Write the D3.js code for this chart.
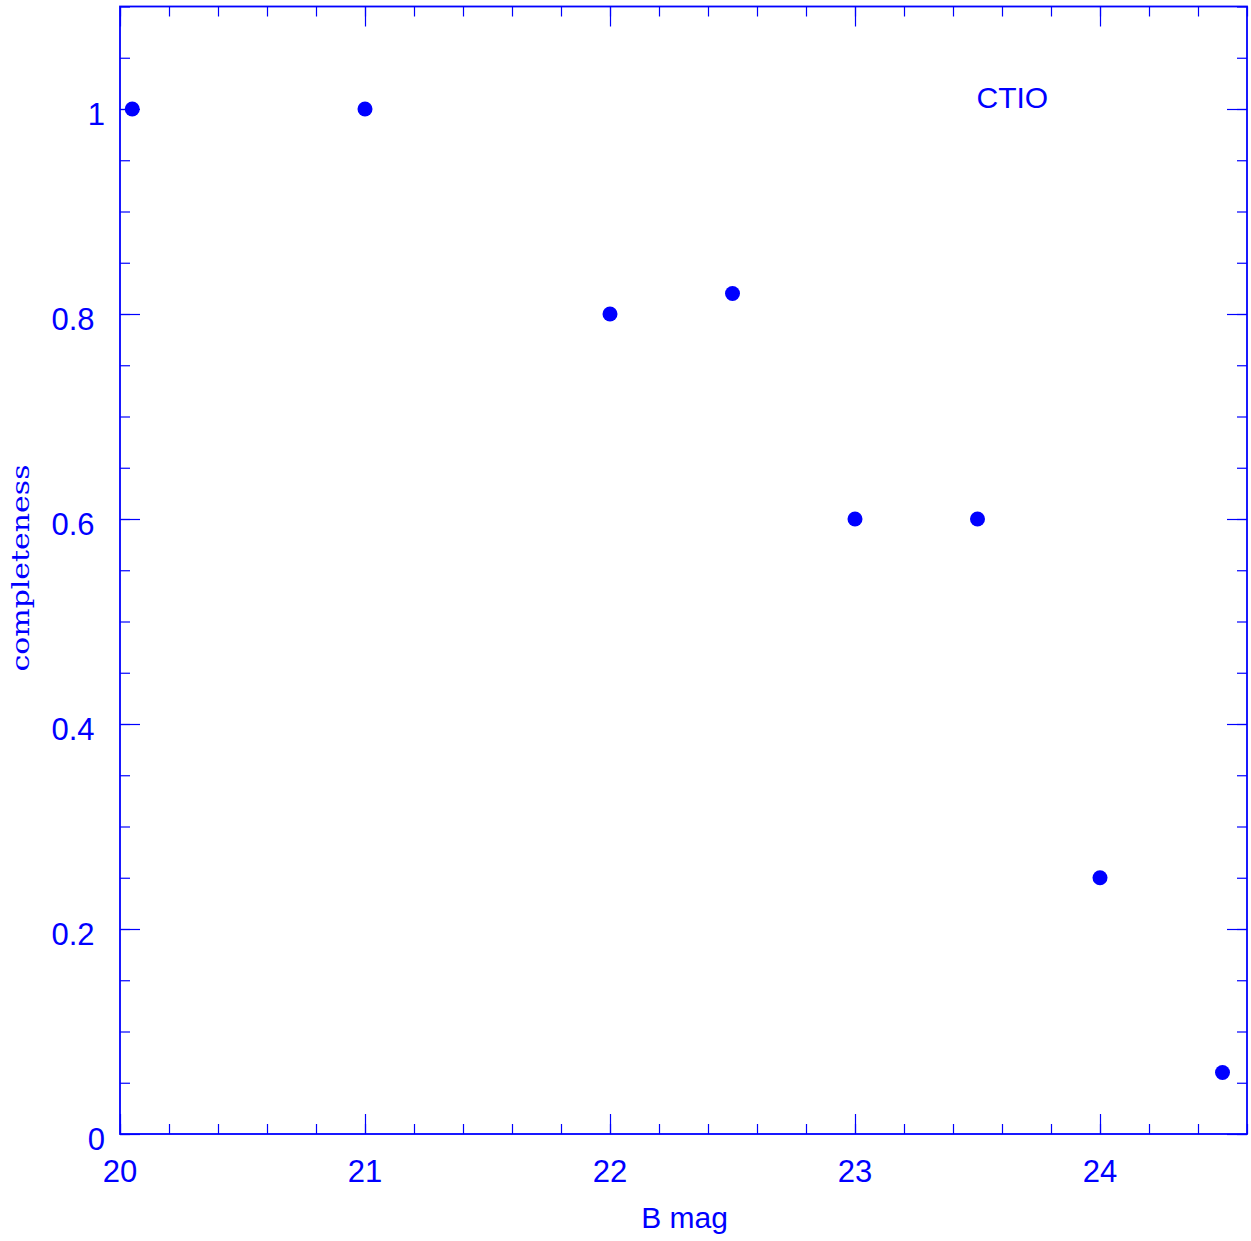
<!DOCTYPE html>
<html>
<head>
<meta charset="utf-8">
<script src="https://cdn.jsdelivr.net/npm/d3@7"></script>
<style>
  body { margin: 0; background: #fff; }
  svg { display: block; }
</style>
</head>
<body>
<script>
// completeness vs B magnitude (CTIO)
var bmag = [20.05, 21, 22, 22.5, 23, 23.5, 24, 24.5];
var completeness = [1, 1, 0.8, 0.82, 0.6, 0.6, 0.25, 0.06];
var xMajor = [20, 21, 22, 23, 24];
var yMajor = [0, 0.2, 0.4, 0.6, 0.8, 1];
var xLabels = ["20", "21", "22", "23", "24"];
var yLabels = ["0", "0.2", "0.4", "0.6", "0.8", "1"];

var W = 1251, H = 1241;
var blue = "#0000ff";
var padL = 120, padR = 1247, padT = 6.5, padB = 1134;

var x = d3.scaleLinear().domain([20, 24.6]).range([padL, padR]);
var y = d3.scaleLinear().domain([0, 1.1]).range([padB, padT]);

// minor ticks
var xMinor = d3.range(0, 24).map(function(i) { return 20 + i * 0.2; });
var yMinor = d3.range(0, 23).map(function(i) { return i * 0.05; });

var svg = d3.select("body").append("svg")
  .attr("width", W).attr("height", H);

function drawAxis(axisFn, scale, ticks, size, tx, ty) {
  var g = svg.append("g")
    .attr("transform", "translate(" + tx + "," + ty + ")")
    .call(axisFn(scale).tickValues(ticks).tickSize(size).tickFormat(""));
  g.select(".domain").remove();
  g.selectAll("line").attr("stroke", blue).attr("stroke-width", 1.2);
  return g;
}

// inward ticks on all four sides
drawAxis(d3.axisBottom, x, xMinor, -10, 0, padB);
drawAxis(d3.axisBottom, x, xMajor, -20, 0, padB);
drawAxis(d3.axisTop, x, xMinor, -10, 0, padT);
drawAxis(d3.axisTop, x, xMajor, -20, 0, padT);
drawAxis(d3.axisLeft, y, yMinor, -10, padL, 0);
drawAxis(d3.axisLeft, y, yMajor, -20, padL, 0);
drawAxis(d3.axisRight, y, yMinor, -10, padR, 0);
drawAxis(d3.axisRight, y, yMajor, -20, padR, 0);

// frame
svg.append("rect")
  .attr("x", padL).attr("y", padT)
  .attr("width", padR - padL).attr("height", padB - padT)
  .attr("fill", "none").attr("stroke", blue).attr("stroke-width", 1.8);

// tick labels
svg.selectAll(".xl").data(xMajor).enter().append("text")
  .attr("x", function(d) { return x(d); })
  .attr("y", padB + 48)
  .attr("text-anchor", "middle")
  .attr("font-family", "Liberation Sans, Arial, sans-serif")
  .attr("font-size", "31px")
  .attr("fill", blue)
  .text(function(d, i) { return xLabels[i]; });

svg.selectAll(".yl").data(yMajor).enter().append("text")
  .attr("x", function(d, i) { return yLabels[i].length == 1 ? padL - 15 : padL - 25.5; })
  .attr("y", function(d) { return y(d) + 16; })
  .attr("text-anchor", "end")
  .attr("font-family", "Liberation Sans, Arial, sans-serif")
  .attr("font-size", "31px")
  .attr("fill", blue)
  .text(function(d, i) { return yLabels[i]; });

// axis titles
svg.append("text")
  .attr("x", (padL + padR) / 2 + 1)
  .attr("y", 1228)
  .attr("text-anchor", "middle")
  .attr("font-family", "Liberation Sans, Arial, sans-serif")
  .attr("font-size", "30px")
  .attr("fill", blue)
  .text("B mag");

svg.append("text")
  .attr("transform", "translate(29,568) rotate(-90)")
  .attr("text-anchor", "middle")
  .attr("font-family", "DejaVu Serif, serif")
  .attr("font-size", "24px")
  .attr("textLength", 207)
  .attr("lengthAdjust", "spacingAndGlyphs")
  .attr("fill", blue)
  .text("completeness");

svg.append("text")
  .attr("x", x(23.5) - 1)
  .attr("y", 108)
  .attr("font-family", "Liberation Sans, Arial, sans-serif")
  .attr("font-size", "30px")
  .attr("fill", blue)
  .text("CTIO");

// data points
svg.selectAll("circle").data(bmag).enter().append("circle")
  .attr("cx", function(d) { return x(d); })
  .attr("cy", function(d, i) { return y(completeness[i]); })
  .attr("r", 7.5)
  .attr("fill", blue);
</script>
</body>
</html>
